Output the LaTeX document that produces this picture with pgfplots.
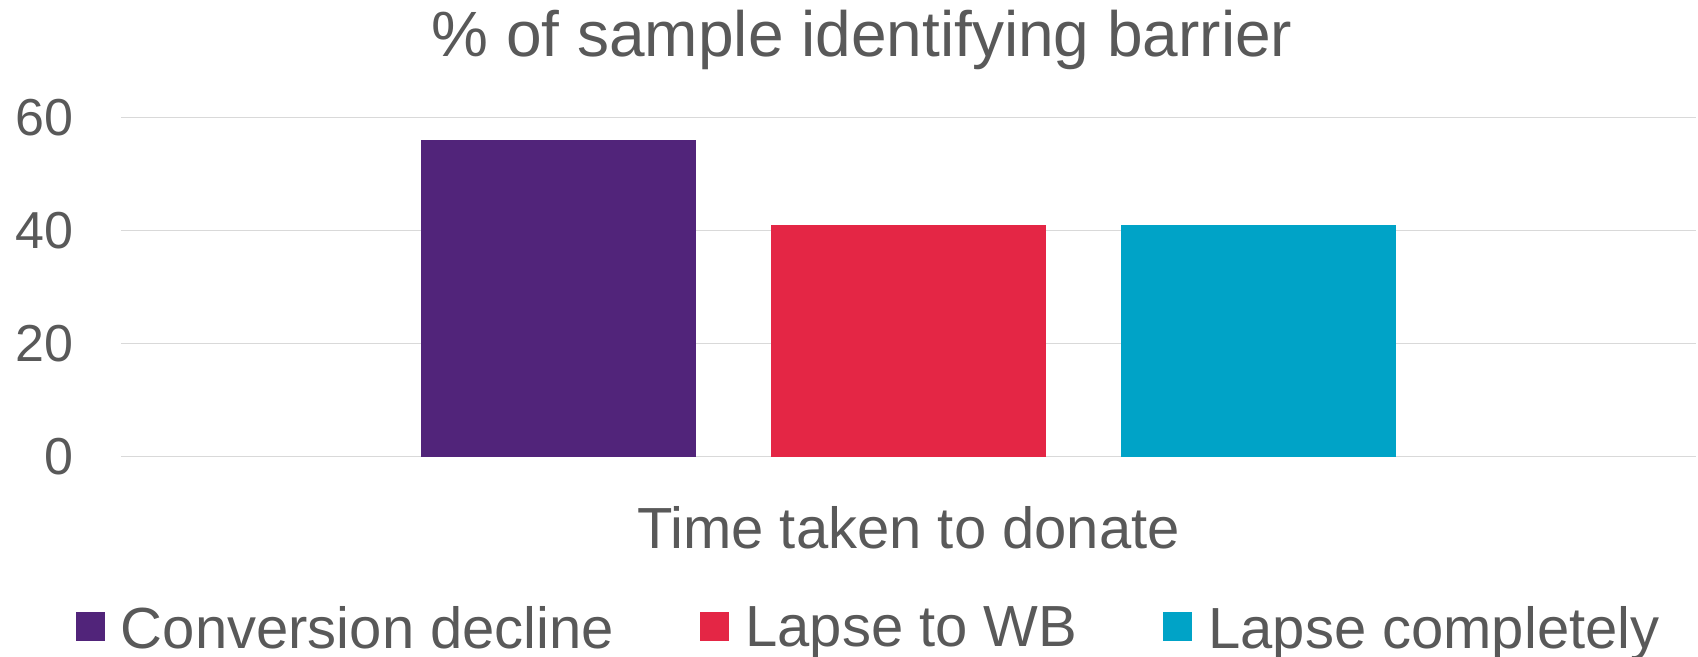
\documentclass[border=0pt]{standalone}
\usepackage{pgfplots}
\pgfplotsset{compat=1.18}
\usepackage{fontspec}
\setmainfont{Liberation Sans}
\definecolor{txtgray}{RGB}{89,89,89}
\definecolor{gridgray}{RGB}{217,217,217}
\definecolor{cpurple}{RGB}{81,36,122}
\definecolor{cred}{RGB}{228,38,69}
\definecolor{ccyan}{RGB}{0,163,199}
\pgfplotsset{sqlegend/.style={legend image code/.code={\fill[##1] (0pt,-7.25pt) rectangle (14.5pt,7.25pt);}}}
\begin{document}
\begin{tikzpicture}
\useasboundingbox (-60.5pt,-100.15pt) rectangle (788.5pt,228.35pt);
\begin{axis}[
  scale only axis,
  width=787.5pt, height=169.6pt,
  xmin=-1, xmax=1, ymin=0, ymax=60,
  ybar=37.5pt, bar width=137.5pt,
  xtick={0}, xticklabels={Time taken to donate},
  ytick={0,20,40,60},
  /pgf/number format/assume math mode=true,
  axis line style={draw=none},
  major tick length=0pt,
  ymajorgrids, grid style={color=gridgray, line width=0.65pt},
  yticklabel style={font=\fontsize{26pt}{31pt}\selectfont, text=txtgray, anchor=east, inner sep=0pt, xshift=-23.5pt},
  xticklabel style={font=\fontsize{29pt}{35pt}\selectfont, text=txtgray, anchor=north, inner sep=0pt, yshift=-24.65pt},
  title={\% of sample identifying barrier},
  title style={font=\fontsize{32pt}{38pt}\selectfont, text=txtgray, at={(axis description cs:0.5,1)}, anchor=base, inner sep=0pt, yshift=24.3pt, xshift=-23.25pt},
  legend columns=3,
  legend style={at={(axis description cs:0,0)}, anchor=west, xshift=-22.5pt, yshift=-85.15pt,
    draw=none, fill=none, inner sep=0pt, outer sep=0pt,
    font=\fontsize{29pt}{35pt}\selectfont, text=txtgray,
    nodes={inner sep=0pt, text depth=0pt},
    /tikz/every odd column/.append style={column sep=8pt},
    /tikz/every even column/.append style={column sep=43pt}},
]
\addplot[fill=cpurple, draw=none, sqlegend] coordinates {(0,56)};
\addplot[fill=cred, draw=none, sqlegend] coordinates {(0,41)};
\addplot[fill=ccyan, draw=none, sqlegend] coordinates {(0,41)};
\legend{Conversion decline, Lapse to WB, Lapse completely}
\end{axis}
\end{tikzpicture}
\end{document}
